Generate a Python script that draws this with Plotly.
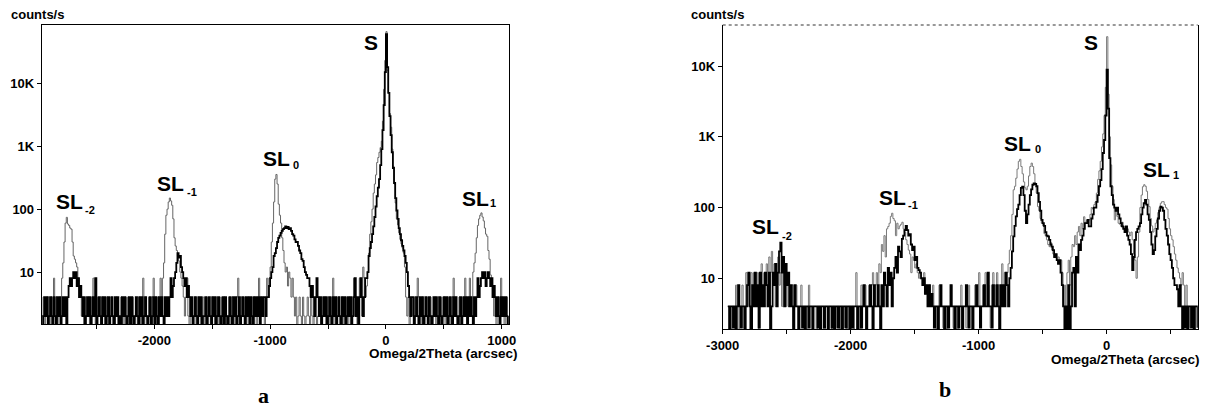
import numpy as np
import plotly.graph_objects as go

# ---------------- data (counts/s on a 10 arcsec scan grid) ----------------
X0_A, STEP_A = -2970, 10
GRAY_A = [
    2,4,1,2,4,4,2,1,4,2, 8,2,4,1,2,4,2,8,14,30,
    60,74,58,55,50,48,30,18,16,14, 12,8,6,4,2,4,1,2,4,2,
    4,1,2,4,8,2,1,4,2,2, 4,1,4,2,1,2,4,2,1,4,
    2,1,1,2,4,2,1,2,4,1, 2,1,4,2,4,1,2,1,4,2,
    1,2,4,2,4,1,2,8,2,4, 1,2,4,2,1,4,8,2,4,1,
    4,2,8,4,8,14,40,80,100,130, 150,135,115,70,35,26,22,18,15,10,
    8,6,4,2,4,8,2,1,4,2, 1,2,4,1,2,4,2,1,2,4,
    1,2,4,2,1,1,2,4,2,1, 4,2,1,2,4,2,1,4,2,1,
    2,4,1,2,4,2,1,2,4,8, 2,1,4,2,2,4,1,2,4,2,
    1,4,2,4,2,1,4,8,2,4, 2,4,1,4,8,4,8,12,30,60,
    130,300,355,250,120,80,60,35,22,14, 10,12,6,10,8,4,8,4,2,4,
    1,2,4,2,1,4,2,1,2,4, 2,1,4,2,1,2,4,1,2,4,
    2,1,4,2,4,1,2,4,1,2, 4,8,2,1,4,2,4,1,2,4,
    1,2,4,2,1,4,2,1,4,8, 2,4,1,2,8,4,2,12,8,4,
    6,10,20,40,63,100,180,250,350,550, 660,800,950,1200,2500,8000,23000,66000,16000,7000,
    3300,2000,900,480,250,125,70,56,42,33, 28,24,20,12,4,2,4,1,2,4,
    2,1,4,2,8,4,2,1,4,2, 1,2,4,1,2,4,2,1,2,4,
    1,2,4,2,1,4,2,4,1,2, 4,2,1,2,4,8,2,4,1,2,
    4,2,1,4,2,8,4,2,4,8, 4,2,10,14,20,35,55,70,80,87,
    75,65,50,40,37,22,16,9,6,4, 2,4,1,2,4,2,8,4,2,1,
    2,4,1,2,
]
BLACK_A = [
    1,2,4,2,4,1,2,4,2,1, 4,2,1,4,2,4,1,2,4,2,
    4,1,4,6,8,6,8,10,8,10, 6,8,4,6,4,2,4,1,2,4,
    2,4,1,2,4,2,8,1,2,4, 2,1,4,2,4,1,2,4,1,2,
    4,2,1,4,2,4,1,2,1,4, 2,4,2,1,2,4,1,4,2,1,
    2,4,2,1,4,2,4,1,2,4, 2,1,2,4,1,2,4,1,4,2,
    1,4,2,4,2,1,4,2,4,2, 4,8,4,6,8,10,14,20,17,18,
    12,10,8,6,8,4,6,4,2,4, 1,2,4,2,1,4,2,4,1,2,
    2,4,1,2,4,2,1,4,2,4, 1,2,4,2,1,2,4,1,4,2,
    1,2,4,2,1,4,2,4,1,2, 4,1,2,4,2,1,4,2,4,1,
    4,2,1,4,2,4,2,4,1,4, 2,4,4,2,4,4,6,8,10,12,
    18,20,24,30,35,38,42,45,48,50, 53,50,52,48,50,45,40,38,33,30,
    30,26,22,20,16,15,12,10,9,8, 8,6,4,6,4,2,4,8,4,2,
    4,1,2,4,2,4,1,2,4,2, 1,4,2,4,1,2,4,2,1,4,
    2,4,1,2,4,2,4,1,2,4, 8,2,4,1,4,8,4,2,4,8,
    8,10,18,24,30,40,53,75,110,160, 220,300,500,900,1800,4500,15000,60000,18000,7000,
    3000,1500,800,450,260,150,95,70,50,40, 32,26,22,18,14,10,6,4,2,4,
    4,1,2,4,2,1,4,2,4,1, 2,4,2,1,4,2,1,2,4,2,
    4,2,1,4,2,1,2,4,2,4, 1,2,4,2,1,4,2,4,2,1,
    2,4,1,2,4,2,4,1,4,2, 4,2,1,4,2,4,8,4,6,8,
    10,8,10,6,8,10,8,6,8,4, 6,4,2,4,2,1,4,2,4,2,
    4,2,1,2,
]

X0_B, STEP_B = -2960, 10
GRAY_B = [
    4,4,1,4,4,2,8,4,1,4, 4,8,2,4,12,4,8,1,12,4,
    12,8,4,12,1,12,16,4,12,8, 16,4,20,12,24,8,16,4,12,20,
    8,12,4,16,8,4,12,4,8,4, 8,2,4,8,4,1,4,8,4,4,
    4,1,4,8,4,4,2,4,4,1, 4,4,2,4,4,1,4,4,2,4,
    4,1,4,4,2,4,4,1,4,4, 2,4,4,1,4,4,2,4,1,4,
    12,4,4,1,8,4,4,8,1,4, 8,4,8,12,4,8,12,8,16,12,
    30,24,40,20,50,54,60,75,83,70, 65,40,60,50,55,58,62,50,45,35,
    30,25,22,12,20,18,14,16,12,10, 12,10,8,12,6,8,4,8,6,4,
    8,4,4,1,4,8,4,4,2,4, 4,1,4,4,8,4,2,4,4,1,
    4,4,8,1,4,4,2,4,8,4, 4,1,4,8,4,4,12,4,4,8,
    4,12,4,8,4,2,8,12,4,8, 12,4,8,4,16,8,12,8,12,16,
    25,40,80,178,200,260,350,450,480,380, 300,230,190,178,200,280,380,424,380,300,
    220,160,103,90,70,60,55,43,40,35, 30,28,32,25,22,20,22,18,20,16,
    18,12,4,8,1,12,18,8,20,30, 28,40,30,45,54,40,60,50,74,60,
    65,60,67,80,100,95,110,120,160,250, 330,450,720,1100,2000,5000,26000,4000,1000,400,
    200,130,67,90,75,60,58,54,62,50, 54,48,50,45,40,45,35,22,18,10,
    20,45,100,150,197,210,200,170,130,103, 70,55,45,50,60,67,85,100,115,121,
    121,110,100,95,70,50,40,35,28,22, 18,14,12,10,8,12,8,4,8,4,
    4,2,4,4,1,4,4,2,
]
BLACK_B = [
    4,1,4,4,2,4,1,4,8,4, 2,4,4,1,4,8,12,4,1,8,
    4,12,4,8,2,12,4,8,4,12, 8,4,12,1,4,12,8,16,4,12,
    24,32,12,20,4,16,8,12,4,8, 4,1,8,4,4,1,4,4,2,4,
    1,4,4,2,4,4,1,4,4,4, 2,4,1,4,4,2,4,4,1,4,
    4,2,4,1,4,4,2,4,4,1, 4,4,2,4,4,1,4,2,4,4,
    4,1,4,4,2,4,8,4,1,4, 4,8,4,1,8,4,4,8,4,1,
    8,4,12,8,4,14,8,12,4,10, 14,20,12,28,24,20,36,40,48,55,
    48,40,42,30,25,28,18,20,14,13, 12,10,8,10,6,8,4,8,4,6,
    4,2,4,4,1,4,8,4,4,1, 4,4,2,4,8,4,4,1,4,4,
    2,4,4,1,4,4,8,4,2,4, 4,1,4,4,8,4,4,2,4,4,
    8,4,4,12,4,4,2,8,4,4, 8,4,1,8,4,8,4,12,8,4,
    10,14,24,39,55,75,95,110,150,190, 198,150,90,60,80,110,150,180,210,220,
    215,200,160,120,90,67,60,55,45,40, 39,35,30,28,25,20,22,18,16,18,
    12,8,4,1,4,1,8,1,4,12, 14,4,20,12,30,25,35,40,50,60,
    60,67,54,54,70,80,100,100,120,150, 200,245,350,590,900,2000,8900,2500,500,200,
    150,110,100,90,100,80,70,60,54,50, 45,54,40,35,30,22,13,20,35,45,
    50,54,60,80,100,115,128,110,80,67, 45,30,22,25,39,50,70,90,103,100,
    90,67,50,40,30,22,18,14,10,8, 8,7,4,8,4,1,4,2,4,1,
    4,4,2,4,1,4,4,2,
]

assert len(GRAY_A) == len(BLACK_A) == 404, (len(GRAY_A), len(BLACK_A))
assert len(GRAY_B) == len(BLACK_B) == 368, (len(GRAY_B), len(BLACK_B))

Y_TICKS = [10, 100, 1000, 10000]
Y_TEXT = ["10", "100", "1K", "10K"]
XA_TICKS = [-2500, -2000, -1500, -1000, -500, 0, 500, 1000]
XA_TEXT = ["", "-2000", "", "-1000", "", "0", "", "1000"]
XB_TICKS = [-3000, -2500, -2000, -1500, -1000, -500, 0, 500]
XB_TEXT = ["-3000", "", "-2000", "", "-1000", "", "0", ""]

# ---------------- figure ----------------
W, H = 1207, 408
def fx(p):
    return p / W
def fy(p):
    return 1 - p / H

FONT = "Liberation Sans, Arial, sans-serif"
fig = go.Figure()

xa = X0_A + STEP_A * np.arange(len(GRAY_A))
xb = X0_B + STEP_B * np.arange(len(GRAY_B))

fig.add_trace(go.Scatter(x=xa, y=GRAY_A, mode="lines", xaxis="x", yaxis="y",
                         line=dict(color="#666666", width=1, shape="hv"),
                         showlegend=False, hoverinfo="skip"))
fig.add_trace(go.Scatter(x=xa, y=BLACK_A, mode="lines", xaxis="x", yaxis="y",
                         line=dict(color="#000000", width=1.8, shape="hv"),
                         showlegend=False, hoverinfo="skip"))
fig.add_trace(go.Scatter(x=xb, y=GRAY_B, mode="lines", xaxis="x2", yaxis="y2",
                         line=dict(color="#7a7a7a", width=1, shape="hv"),
                         showlegend=False, hoverinfo="skip"))
fig.add_trace(go.Scatter(x=xb, y=BLACK_B, mode="lines", xaxis="x2", yaxis="y2",
                         line=dict(color="#000000", width=1.8, shape="hv"),
                         showlegend=False, hoverinfo="skip"))

tickfont = dict(family=FONT, size=13, color="black", weight="bold")
common_x = dict(showline=True, linecolor="black", linewidth=1, ticks="outside",
                ticklen=4, tickcolor="black", showgrid=False, zeroline=False,
                tickfont=tickfont, tickmode="array", automargin=False)
common_y = dict(type="log", showline=True, linecolor="black", linewidth=1,
                mirror=True, ticks="outside", ticklen=4, tickcolor="black",
                showgrid=False, zeroline=False, tickfont=tickfont, automargin=False,
                tickmode="array", tickvals=Y_TICKS, ticktext=Y_TEXT)

fig.update_layout(
    width=W, height=H, margin=dict(l=0, r=0, t=0, b=0, pad=0, autoexpand=False),
    paper_bgcolor="white", plot_bgcolor="white",
    xaxis=dict(domain=[fx(41.7), fx(508.7)], range=[-2972, 1060], anchor="y",
               mirror=True, tickvals=XA_TICKS, ticktext=XA_TEXT, **common_x),
    yaxis=dict(domain=[fy(324.3), fy(25)], range=[0.17, 4.925], anchor="x", **common_y),
    xaxis2=dict(domain=[fx(722.7), fx(1197.7)], range=[-3000, 712], anchor="y2",
                mirror=False, tickvals=XB_TICKS, ticktext=XB_TEXT, **common_x),
    yaxis2=dict(domain=[fy(329), fy(25)], range=[0.283, 4.58], anchor="x2", **common_y),
)

# dotted top border of panel b
fig.add_shape(type="line", xref="paper", yref="paper",
              x0=fx(722.7), x1=fx(1197.7), y0=fy(25), y1=fy(25),
              line=dict(color="#333333", width=1, dash="dot"))

def label(text, x, y, size, xanchor="center", family=FONT, weight="bold"):
    fig.add_annotation(text=text, x=fx(x), y=fy(y), xref="paper", yref="paper",
                       xanchor=xanchor, yanchor="middle", showarrow=False,
                       font=dict(family=family, size=size, color="black", weight=weight))

# axis titles
label("counts/s", 9.3, 15, 13, xanchor="left")
label("counts/s", 689.3, 15, 13, xanchor="left")
label("Omega/2Theta (arcsec)", 443.3, 353, 13.5)
label("Omega/2Theta (arcsec)", 1125, 359, 13.5)

# peak labels, panel a
BIG, SMALL = 21, 11
label("SL", 69, 201.3, BIG); label("-2", 89.7, 210, SMALL)
label("SL", 170.8, 183.3, BIG); label("-1", 191.7, 191.7, SMALL)
label("SL", 276.7, 158.7, BIG); label("0", 295.7, 165, SMALL)
label("S", 371, 42.8, BIG)
label("SL", 475, 198, BIG); label("1", 493, 203.3, SMALL)

# peak labels, panel b
label("SL", 765.8, 226.7, BIG); label("-2", 786.7, 235.8, SMALL)
label("SL", 892.5, 197, BIG); label("-1", 913.3, 205, SMALL)
label("SL", 1017.5, 143.3, BIG); label("0", 1038, 149, SMALL)
label("S", 1091.3, 42.5, BIG)
label("SL", 1156.7, 169, BIG); label("1", 1175.5, 175, SMALL)

# panel letters
label("a", 263.3, 395, 22, family="Liberation Serif, DejaVu Serif, serif")
label("b", 945, 389, 22, family="Liberation Serif, DejaVu Serif, serif")

fig.write_html(
    "out.html",
    config={"displayModeBar": False, "staticPlot": True},
    post_script="document.body.style.margin='0';document.body.style.overflow='hidden';",
)
